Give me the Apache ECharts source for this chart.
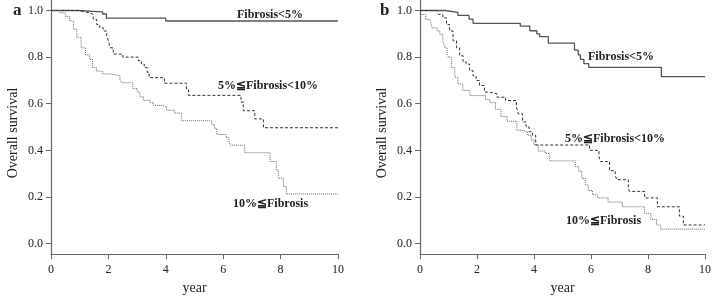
<!DOCTYPE html>
<html>
<head>
<meta charset="utf-8">
<script src="https://cdn.jsdelivr.net/npm/echarts@6/dist/echarts.min.js"></script>
<style>
  html, body { margin: 0; padding: 0; background: #fff; }
  #chart { width: 714px; height: 300px; }
</style>
</head>
<body>
<div id="chart"></div>
<script>
// Kaplan-Meier curves: [year, survival]
var aLow = [[0, 1], [0.93, 0.994], [1.8, 0.985], [1.93, 0.967], [4.0, 0.955], [10, 0.955]];
var aMid = [[0, 1], [0.95, 0.995], [1.13, 0.99], [1.36, 0.983], [1.47, 0.962], [1.59, 0.94], [1.7, 0.926],
  [1.82, 0.912], [1.94, 0.89], [2.0, 0.87], [2.06, 0.84], [2.17, 0.813], [2.5, 0.8], [3.04, 0.785],
  [3.15, 0.77], [3.25, 0.755], [3.35, 0.735], [3.42, 0.712], [3.95, 0.688], [4.72, 0.66], [4.79, 0.636],
  [6.62, 0.607], [6.7, 0.57], [7.1, 0.535], [7.4, 0.497], [10, 0.497]];
var aHigh = [[0, 1], [0.3, 0.99], [0.5, 0.975], [0.65, 0.955], [0.78, 0.92], [0.9, 0.885], [1.05, 0.84],
  [1.2, 0.81], [1.35, 0.79], [1.45, 0.755], [1.58, 0.74], [1.8, 0.728], [2.05, 0.72], [2.4, 0.705],
  [2.46, 0.69], [2.85, 0.665], [3.0, 0.65], [3.1, 0.63], [3.22, 0.615], [3.45, 0.605], [3.56, 0.593],
  [3.9, 0.585], [4.03, 0.572], [4.3, 0.56], [4.55, 0.527], [5.6, 0.51], [5.7, 0.494], [5.78, 0.468],
  [6.1, 0.455], [6.2, 0.44], [6.25, 0.422], [6.75, 0.39], [7.63, 0.352], [7.85, 0.316], [7.92, 0.28],
  [8.1, 0.245], [8.2, 0.213], [10, 0.213]];

var bLow = [[0, 1], [0.88, 0.992], [1.33, 0.979], [1.72, 0.963], [1.86, 0.945], [3.52, 0.933], [3.85, 0.913],
  [4.1, 0.9], [4.2, 0.888], [4.5, 0.86], [5.42, 0.83], [5.55, 0.81], [5.63, 0.79], [5.75, 0.772],
  [5.92, 0.756], [8.47, 0.716], [10, 0.716]];
var bMid = [[0, 1], [0.58, 0.995], [0.65, 0.983], [0.8, 0.969], [0.93, 0.94], [1.04, 0.912], [1.16, 0.87],
  [1.28, 0.84], [1.39, 0.806], [1.51, 0.78], [1.62, 0.77], [1.74, 0.742], [1.86, 0.72], [1.97, 0.7],
  [2.09, 0.678], [2.26, 0.65], [2.38, 0.643], [2.7, 0.628], [3.0, 0.614], [3.38, 0.586], [3.45, 0.557],
  [3.6, 0.522], [3.72, 0.5], [3.83, 0.48], [3.95, 0.465], [4.06, 0.423], [5.95, 0.4], [6.28, 0.373],
  [6.33, 0.352], [6.65, 0.313], [6.85, 0.295], [6.9, 0.274], [7.31, 0.238], [7.35, 0.224], [7.88, 0.196],
  [8.33, 0.158], [9.1, 0.118], [9.24, 0.08], [10, 0.08]];
var bHigh = [[0, 1], [0.05, 0.983], [0.2, 0.962], [0.35, 0.955], [0.42, 0.926], [0.6, 0.912], [0.7, 0.898],
  [0.8, 0.87], [0.87, 0.84], [0.95, 0.81], [1.0, 0.8], [1.1, 0.756], [1.22, 0.714], [1.33, 0.685],
  [1.5, 0.657], [1.75, 0.635], [2.3, 0.618], [2.45, 0.605], [2.65, 0.576], [2.84, 0.545], [3.05, 0.525],
  [3.4, 0.486], [3.55, 0.48], [3.77, 0.465], [3.9, 0.444], [4.0, 0.423], [4.15, 0.397], [4.4, 0.387],
  [4.55, 0.355], [5.45, 0.33], [5.57, 0.31], [5.68, 0.28], [5.8, 0.252], [5.9, 0.228], [6.05, 0.21],
  [6.22, 0.196], [6.6, 0.178], [7.1, 0.158], [7.88, 0.13], [8.1, 0.104], [8.3, 0.08], [8.45, 0.062],
  [10, 0.062]];

var yTicks = [0, 0.2, 0.4, 0.6, 0.8, 1.0];
var groupNames = ["Fibrosis<5%", "5%≦Fibrosis<10%", "10%≦Fibrosis"];
var yTitle = "Overall survival";

var serif = "Liberation Serif";
var axisColor = "#666";

function xAxisFor(idx) {
  return {
    gridIndex: idx,
    type: "value",
    min: 0,
    max: 10,
    interval: 2,
    name: "year",
    nameLocation: "middle",
    nameGap: 25,
    nameTextStyle: { fontFamily: serif, fontSize: 14, color: "#222" },
    axisLine: { show: true, onZero: false, lineStyle: { color: axisColor, width: 1.2 } },
    axisTick: { show: true, length: 5, lineStyle: { color: axisColor } },
    axisLabel: { fontFamily: serif, fontSize: 12, color: "#222", margin: 10 },
    splitLine: { show: false }
  };
}

function yAxisFor(idx) {
  return {
    gridIndex: idx,
    type: "value",
    min: -0.045,
    max: 1.045,
    axisLine: { show: true, onZero: false, lineStyle: { color: axisColor, width: 1.2 } },
    axisTick: { show: true, length: 5, customValues: yTicks, lineStyle: { color: axisColor } },
    axisLabel: {
      fontFamily: serif, fontSize: 12, color: "#222", margin: 8,
      customValues: yTicks,
      formatter: function (v) { return v.toFixed(1); }
    },
    splitLine: { show: false }
  };
}

function kmLine(data, idx, style) {
  return {
    type: "line",
    xAxisIndex: idx,
    yAxisIndex: idx,
    step: "end",
    showSymbol: false,
    symbol: "none",
    data: data,
    lineStyle: style
  };
}

var solid = { color: "#555", width: 1.3, type: "solid" };
var dashed = { color: "#333", width: 1, type: [3, 2] };
var dotted = { color: "#666", width: 1, type: [1, 1] };

function textAt(x, y, str, size) {
  return {
    type: "text",
    left: x,
    top: y,
    style: {
      text: str,
      fontFamily: serif,
      fontWeight: "bold",
      fontSize: size || 12,
      fill: "#222"
    }
  };
}

// rotated y title, centred on (cx, cy)
function yTitleAt(cx, cy) {
  return {
    type: "text",
    x: cx,
    y: cy,
    rotation: Math.PI / 2,
    style: {
      text: yTitle,
      fontFamily: serif,
      fontSize: 14,
      fill: "#222",
      align: "center",
      verticalAlign: "middle"
    }
  };
}

var chart = echarts.init(document.getElementById("chart"), null, { renderer: "canvas" });

var option = {
  animation: false,
  backgroundColor: "#fff",
  grid: [
    { left: 51, right: 376, top: 0, bottom: 43.5 },
    { left: 420, right: 6.7, top: 0, bottom: 43.5 }
  ],
  xAxis: [xAxisFor(0), xAxisFor(1)],
  yAxis: [yAxisFor(0), yAxisFor(1)],
  series: [
    kmLine(aLow, 0, solid),
    kmLine(aMid, 0, dashed),
    kmLine(aHigh, 0, dotted),
    kmLine(bLow, 1, solid),
    kmLine(bMid, 1, dashed),
    kmLine(bHigh, 1, dotted)
  ],
  graphic: [
    textAt(13, 2, "a", 17),
    textAt(380, 2, "b", 17),
    yTitleAt(13.5, 133),
    yTitleAt(382.5, 133),
    textAt(237, 9, groupNames[0]),
    textAt(218, 80, groupNames[1]),
    textAt(233, 198, groupNames[2]),
    textAt(588, 51, groupNames[0]),
    textAt(565, 133, groupNames[1]),
    textAt(566, 215, groupNames[2])
  ]
};

chart.setOption(option);
</script>
</body>
</html>
